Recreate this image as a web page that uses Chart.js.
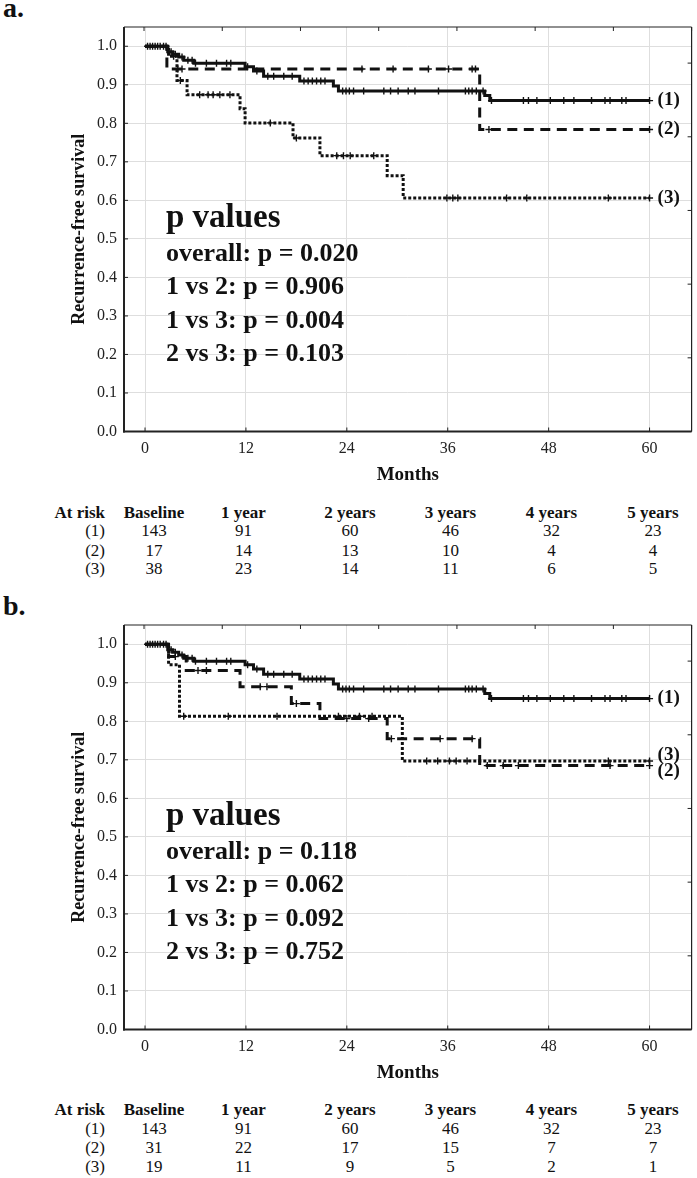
<!DOCTYPE html>
<html>
<head>
<meta charset="utf-8">
<script src="https://cdn.jsdelivr.net/npm/chart.js@4.4.1/dist/chart.umd.min.js"></script>
<style>
  body { margin: 0; background: #fff; }
  #page { position: relative; width: 697px; height: 1178px; font-family: "Liberation Serif", "Times New Roman", serif; color: #111; }
  canvas { position: absolute; left: 0; }
  .tag { position: absolute; left: 3px; font-weight: bold; font-size: 28px; line-height: 28px; }
  .cell { position: absolute; font-size: 17px; line-height: 20px; white-space: nowrap; }
  .head { font-weight: bold; }
</style>
</head>
<body>
<div id="page">
  <div class="tag" style="top:-6px">a.</div>
  <canvas id="chartA" width="697" height="486" style="top:0px"></canvas>
  <div class="tag" style="top:592px">b.</div>
  <canvas id="chartB" width="697" height="486" style="top:597.5px"></canvas>
</div>
<script>
// axis ticks
const xTicks = [0, 12, 24, 36, 48, 60];
const yTicks = [0, 0.1, 0.2, 0.3, 0.4, 0.5, 0.6, 0.7, 0.8, 0.9, 1.0];

// group (1) - same patients in both panels
const g1Time = [0, 2.7, 3.3, 4.0, 4.6, 5.8, 11.9, 12.9, 14.1, 18.4, 22.4, 23.0, 40.4, 41.0, 60];
const g1Surv = [1.0, 0.986, 0.979, 0.972, 0.964, 0.956, 0.947, 0.936, 0.922, 0.910, 0.897, 0.884, 0.872, 0.859, 0.859];
const g1Cens = [0.3, 0.6, 0.9, 1.2, 1.5, 1.8, 2.2, 2.5, 3.1, 3.6, 4.4, 5.1, 5.6, 6.0, 7.3, 8.5, 9.7, 10.2,
  12.2, 13.3, 14.6, 15.3, 16.5, 17.5, 18.9, 19.4, 19.9, 20.4, 20.9, 21.4, 23.5, 23.9, 24.3, 24.8, 26.0,
  28.4, 29.2, 30.1, 31.3, 32.1, 34.9, 38.1, 38.5, 38.9, 39.4, 40.2, 41.2, 45.0, 45.6, 46.6, 48.2, 49.8,
  51.0, 53.1, 54.7, 55.3, 56.7, 57.2, 60.0];

// panel a, group (2) and (3)
const a2Time = [0, 2.6, 39.8, 60];
const a2Surv = [1.0, 0.941, 0.784, 0.784];
const a2Cens = [3.9, 4.4, 25.8, 29.5, 33.7, 36.1, 38.9, 39.3, 40.9, 60.0];
const a3Time = [0, 2.8, 3.8, 5.0, 11.3, 11.9, 17.6, 20.8, 28.8, 30.7, 60];
const a3Surv = [1.0, 0.974, 0.911, 0.874, 0.838, 0.801, 0.762, 0.716, 0.664, 0.606, 0.606];
const a3Cens = [3.4, 4.2, 6.5, 7.5, 8.1, 8.9, 10.1, 14.9, 18.0, 22.8, 23.6, 24.4, 27.2, 35.9, 36.6, 37.2, 43.0, 45.4, 55.1, 60.0];

// panel b, group (2) and (3)
const b2Time = [0, 2.8, 4.9, 11.3, 17.4, 20.8, 28.8, 39.8, 60];
const b2Surv = [1.0, 0.968, 0.932, 0.890, 0.846, 0.807, 0.755, 0.685, 0.685];
const b2Cens = [3.6, 6.3, 7.3, 13.7, 14.5, 18.0, 24.0, 26.6, 29.3, 35.1, 38.9, 40.7, 42.6, 44.4, 55.3, 60.0];
const b3Time = [0, 2.8, 4.1, 30.6, 60];
const b3Surv = [1.0, 0.947, 0.813, 0.697, 0.697];
const b3Cens = [4.6, 9.9, 15.7, 23.0, 25.5, 27.0, 33.5, 34.8, 36.2, 37.0, 38.3, 55.1, 60.0];

// p values text
const pTitle = 'p values';
const pLinesA = ['overall: p = 0.020', '1 vs 2: p = 0.906', '1 vs 3: p = 0.004', '2 vs 3: p = 0.103'];
const pLinesB = ['overall: p = 0.118', '1 vs 2: p = 0.062', '1 vs 3: p = 0.092', '2 vs 3: p = 0.752'];

// at risk table
const riskHead = ['Baseline', '1 year', '2 years', '3 years', '4 years', '5 years'];
const groupNames = ['(1)', '(2)', '(3)'];
const riskA1 = [143, 91, 60, 46, 32, 23];
const riskA2 = [17, 14, 13, 10, 4, 4];
const riskA3 = [38, 23, 14, 11, 6, 5];
const riskB1 = [143, 91, 60, 46, 32, 23];
const riskB2 = [31, 22, 17, 15, 7, 7];
const riskB3 = [19, 11, 9, 5, 2, 1];

const FONT = '"Liberation Serif", "Times New Roman", serif';
const INK = '#111';

function levelAt(times, surv, t) {
    let s = surv[0];
    for (let i = 0; i < times.length; i++) {
        if (times[i] <= t) s = surv[i];
    }
    return s;
}

function curveSets(times, surv, cens, dash) {
    return [{
        data: times.map((t, i) => ({ x: t, y: surv[i] })),
        stepped: 'before',
        borderColor: INK,
        borderWidth: 3,
        borderDash: dash,
        borderCapStyle: 'butt',
        pointRadius: 0,
        fill: false
    }, {
        data: cens.map(t => ({ x: t, y: levelAt(times, surv, t) })),
        showLine: false,
        pointStyle: 'cross',
        pointRadius: 3.5,
        borderColor: INK,
        borderWidth: 1.4
    }];
}

// frame, inward tick marks, end labels and p values
const decor = {
    id: 'decor',
    afterDatasetsDraw(chart, args, opts) {
        const { ctx, chartArea: a, scales } = chart;
        const seg = (x1, y1, x2, y2) => { ctx.beginPath(); ctx.moveTo(x1, y1); ctx.lineTo(x2, y2); ctx.stroke(); };
        ctx.save();
        ctx.strokeStyle = '#222';
        ctx.lineWidth = 1.2;
        seg(a.left, a.top, a.right, a.top);
        seg(a.right, a.top, a.right, a.bottom);
        ctx.lineWidth = 2;
        seg(a.left, a.top, a.left, a.bottom + 1);
        seg(a.left - 1, a.bottom, a.right, a.bottom);
        ctx.lineWidth = 1;
        scales.x.ticks.forEach(t => { const p = scales.x.getPixelForValue(t.value); seg(p, a.bottom, p, a.bottom - 4); });
        scales.y.ticks.forEach(t => { const p = scales.y.getPixelForValue(t.value); seg(a.left, p, a.left + 4, p); });
        scales.x2.ticks.forEach(t => { const p = scales.x2.getPixelForValue(t.value); seg(p, a.top, p, a.top + 4); });
        scales.y2.ticks.forEach(t => { const p = scales.y2.getPixelForValue(t.value); seg(a.right, p, a.right - 4, p); });

        ctx.fillStyle = INK;
        ctx.font = 'bold 19px ' + FONT;
        ctx.textAlign = 'left';
        ctx.textBaseline = 'middle';
        const xEnd = scales.x.getPixelForValue(60) + 8;
        opts.ends.forEach((e, i) => {
            ctx.fillText(groupNames[i], xEnd, scales.y.getPixelForValue(e.y) + e.dy);
        });

        ctx.textBaseline = 'alphabetic';
        ctx.font = 'bold 33px ' + FONT;
        ctx.fillText(pTitle, a.left + 42, a.top + 200);
        ctx.font = 'bold 26px ' + FONT;
        opts.lines.forEach((s, i) => ctx.fillText(s, a.left + 42, a.top + 234 + i * 33.4));
        ctx.restore();
    }
};

function makeChart(id, sets, ends, lines) {
    const tickFont = { family: FONT, size: 16 };
    new Chart(document.getElementById(id), {
        type: 'line',
        data: { datasets: sets },
        plugins: [decor],
        options: {
            responsive: false,
            animation: false,
            layout: { padding: { top: 27, right: 5, left: 0, bottom: 0 } },
            plugins: {
                legend: { display: false },
                tooltip: { enabled: false },
                decor: { ends: ends, lines: lines }
            },
            scales: {
                x: {
                    type: 'linear', min: -2.5, max: 65,
                    afterBuildTicks: s => { s.ticks = xTicks.map(v => ({ value: v })); },
                    afterFit: s => { s.height = 54.5; },
                    grid: { color: '#dedede', lineWidth: 1, drawTicks: false },
                    border: { display: false },
                    ticks: { font: tickFont, color: '#222', padding: 8, callback: v => v },
                    title: { display: true, text: 'Months', color: INK, padding: 0, font: { family: FONT, size: 19, weight: 'bold' } }
                },
                y: {
                    type: 'linear', min: 0, max: 1.05,
                    afterBuildTicks: s => { s.ticks = yTicks.map(v => ({ value: v })); },
                    afterFit: s => { s.width = 124; },
                    grid: { color: '#dedede', lineWidth: 1, drawTicks: false },
                    border: { display: false },
                    ticks: { font: tickFont, color: '#222', padding: 7, callback: v => v.toFixed(1) },
                    title: { display: true, text: 'Recurrence-free survival', color: INK, padding: { top: 69, bottom: 0 }, font: { family: FONT, size: 18, weight: 'bold' } }
                },
                x2: {
                    type: 'linear', position: 'top', min: -0.256, max: 7,
                    afterBuildTicks: s => { s.ticks = [0, 1, 2, 3, 4, 5, 6, 7].map(v => ({ value: v })); },
                    afterFit: s => { s.height = 0; },
                    grid: { display: false }, border: { display: false }, ticks: { display: false }
                },
                y2: {
                    type: 'linear', position: 'right', min: 0, max: 5.49,
                    afterBuildTicks: s => { s.ticks = [0, 1, 2, 3, 4, 5].map(v => ({ value: v })); },
                    afterFit: s => { s.width = 0; },
                    grid: { display: false }, border: { display: false }, ticks: { display: false }
                }
            }
        }
    });
}

makeChart('chartA',
    [].concat(curveSets(g1Time, g1Surv, g1Cens, []),
              curveSets(a2Time, a2Surv, a2Cens, [10, 6.5]),
              curveSets(a3Time, a3Surv, a3Cens, [3, 2])),
    [{ y: g1Surv[g1Surv.length - 1], dy: 0 }, { y: a2Surv[a2Surv.length - 1], dy: 0 }, { y: a3Surv[a3Surv.length - 1], dy: 0 }],
    pLinesA);

makeChart('chartB',
    [].concat(curveSets(g1Time, g1Surv, g1Cens, []),
              curveSets(b2Time, b2Surv, b2Cens, [10, 6.5]),
              curveSets(b3Time, b3Surv, b3Cens, [3, 2])),
    [{ y: g1Surv[g1Surv.length - 1], dy: 0 }, { y: b2Surv[b2Surv.length - 1], dy: 5 }, { y: b3Surv[b3Surv.length - 1], dy: -6 }],
    pLinesB);

// at risk tables
const colX = [154, 243.5, 350, 450.5, 551.5, 653];
const rowY = [512.5, 531, 550.5, 569];
function riskTable(offset, rows) {
    const page = document.getElementById('page');
    const add = (text, x, y, cls, align) => {
        const d = document.createElement('div');
        d.className = 'cell' + (cls ? ' ' + cls : '');
        d.textContent = text;
        d.style.top = (y + offset - 10) + 'px';
        if (align === 'right') { d.style.right = (697 - x) + 'px'; }
        else { d.style.left = x + 'px'; d.style.transform = 'translateX(-50%)'; }
        page.appendChild(d);
    };
    add('At risk', 105, rowY[0], 'head', 'right');
    riskHead.forEach((h, j) => add(h, colX[j], rowY[0], 'head'));
    rows.forEach((r, i) => {
        add(groupNames[i], 105, rowY[i + 1], '', 'right');
        r.forEach((v, j) => add(String(v), colX[j], rowY[i + 1], ''));
    });
}
riskTable(0, [riskA1, riskA2, riskA3]);
riskTable(597.5, [riskB1, riskB2, riskB3]);
</script>
</body>
</html>
